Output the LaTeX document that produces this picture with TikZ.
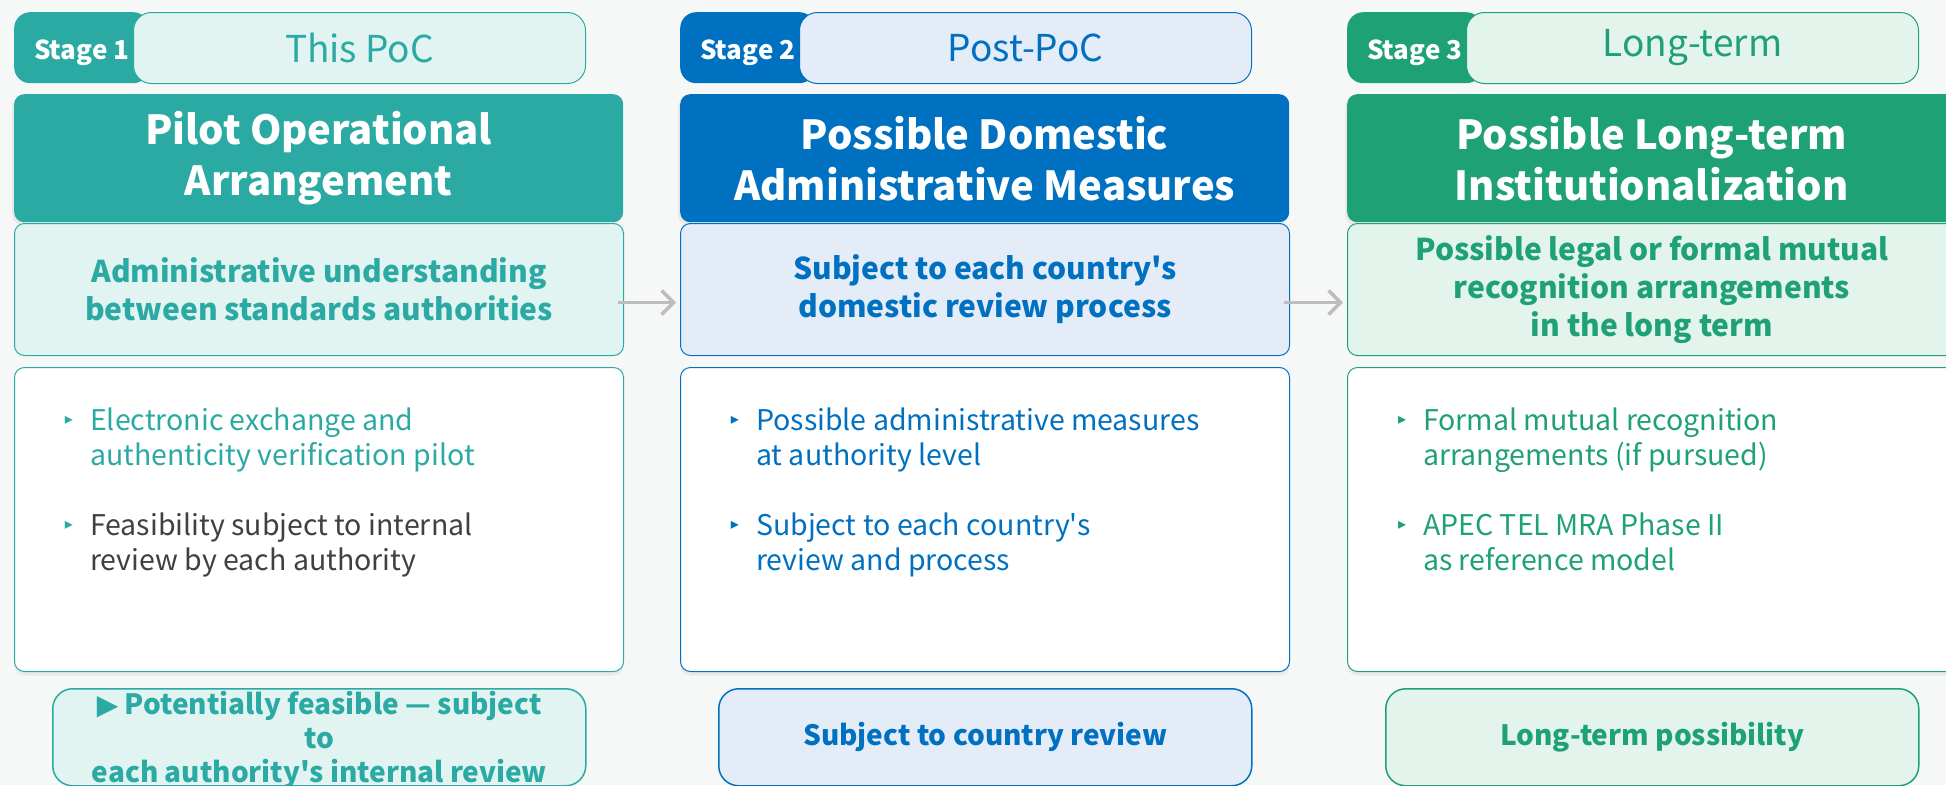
\documentclass[tikz,border=0pt]{standalone}
\usepackage{fontspec}
\setmainfont{Noto Sans CJK KR}[Ligatures=TeXOff]
\newfontfamily\symfont{DejaVu Sans}
\usetikzlibrary{arrows.meta,shadows}

\definecolor{pagebg}{HTML}{F6F8F8}
\definecolor{tealdark}{HTML}{2BAAA3}
\definecolor{teallight}{HTML}{E1F4F2}
\definecolor{bluedark}{HTML}{0070C0}
\definecolor{bluelight}{HTML}{E4ECF8}
\definecolor{greendark}{HTML}{1FA176}
\definecolor{greenlight}{HTML}{E3F4EC}
\definecolor{graytext}{HTML}{404040}
\definecolor{arrowgray}{HTML}{BDBDBD}

\tikzset{
    every picture/.style={x=1pt, y=-1pt},
    tagpill/.style={rounded corners=16pt, minimum width=135pt, minimum height=71pt,
        inner sep=0pt, anchor=north west, text=white, text height=24pt, text depth=0pt,
        font=\bfseries\fontsize{26}{30}\selectfont},
    phasepill/.style={draw, line width=1pt, rounded corners=18pt, minimum width=452pt,
        minimum height=71pt, inner sep=0pt, anchor=north west, font=\fontsize{37}{40}\selectfont},
    titlebox/.style={rounded corners=10pt, minimum width=609pt, minimum height=128pt,
        anchor=north west, text=white, align=center, font=\bfseries\fontsize{40}{51}\selectfont,
        drop shadow={opacity=0.12, shadow xshift=-2pt, shadow yshift=-3pt}},
    subbox/.style={draw, line width=1pt, rounded corners=10pt, minimum width=609pt,
        minimum height=132pt, anchor=north west, align=center, font=\bfseries\fontsize{30}{38}\selectfont},
    bodybox/.style={draw, fill=white, line width=1pt, rounded corners=10pt, minimum width=609pt,
        minimum height=304pt, anchor=north west,
        drop shadow={opacity=0.10, shadow xshift=0pt, shadow yshift=-4pt}},
    footbox/.style={draw, line width=1.5pt, rounded corners=20pt, minimum width=533pt,
        minimum height=97pt, anchor=north west, align=center, font=\bfseries\fontsize{28}{34}\selectfont},
    marker/.style={inner sep=0pt, anchor=center, font=\symfont\fontsize{16}{16}\selectfont},
    bullet/.style={inner sep=0pt, anchor=base west, align=left, font=\fontsize{28.5}{35}\selectfont},
    flow/.style={-{Straight Barb[length=12pt, width=24pt]}, line width=3.5pt, draw=arrowgray},
}

\begin{document}
\begin{tikzpicture}
    % Canvas
    \useasboundingbox (0,0) rectangle (1946,785);
    \clip (0,0) rectangle (1946,785);
    \fill[pagebg] (0,0) rectangle (1946,785);

    % Stage tags
    \node[tagpill, fill=tealdark] (tag1) at (14,12) {Stage 1};
    \node[phasepill, draw=tealdark, fill=teallight, text=tealdark] (phase1) at (133,12) {This PoC};
    \node[tagpill, fill=bluedark] (tag2) at (680,12) {Stage 2};
    \node[phasepill, draw=bluedark, fill=bluelight, text=bluedark] (phase2) at (799,12) {Post-PoC};
    \node[tagpill, fill=greendark] (tag3) at (1347,12) {Stage 3};
    \node[phasepill, draw=greendark, fill=greenlight, text=greendark] (phase3) at (1466,12) {Long-term};

    % Title bars
    \node[titlebox, fill=tealdark] (title1) at (14,94) {Pilot Operational\\Arrangement};
    \node[titlebox, fill=bluedark] (title2) at (680,94) {Possible Domestic\\Administrative Measures};
    \node[titlebox, fill=greendark] (title3) at (1347,94) {Possible Long-term\\Institutionalization};

    % Subtitle boxes
    \node[subbox, draw=tealdark, fill=teallight, text=tealdark] (sub1) at (14,223)
        {Administrative understanding\\between standards authorities};
    \node[subbox, draw=bluedark, fill=bluelight, text=bluedark] (sub2) at (680,223)
        {Subject to each country's\\domestic review process};
    \node[subbox, draw=greendark, fill=greenlight, text=greendark] (sub3) at (1347,223)
        {Possible legal or formal mutual\\recognition arrangements\\in the long term};

    % Arrows between stages
    \foreach \a/\b in {sub1/sub2, sub2/sub3}
        \draw[flow] ([xshift=-6pt, yshift=-13pt]\a.east) -- ([xshift=-4pt, yshift=-13pt]\b.west);

    % Body boxes
    \node[bodybox, draw=tealdark] (body1) at (14,367) {};
    \node[bodybox, draw=bluedark] (body2) at (680,367) {};
    \node[bodybox, draw=greendark] (body3) at (1347,367) {};

    % Bullets, stage 1 (nodes sit on the baseline of their last line)
    \node[marker, text=tealdark] (mark11) at (69,420) {▸};
    \node[bullet, text=tealdark] (item11) at (90,465) {Electronic exchange and\\authenticity verification pilot};
    \node[marker, text=tealdark] (mark12) at (69,525) {▸};
    \node[bullet, text=graytext] (item12) at (90,570) {Feasibility subject to internal\\review by each authority};

    % Bullets, stage 2
    \node[marker, text=bluedark] (mark21) at (735,420) {▸};
    \node[bullet, text=bluedark] (item21) at (756,465) {Possible administrative measures\\at authority level};
    \node[marker, text=bluedark] (mark22) at (735,525) {▸};
    \node[bullet, text=bluedark] (item22) at (756,570) {Subject to each country's\\review and process};

    % Bullets, stage 3
    \node[marker, text=greendark] (mark31) at (1402,420) {▸};
    \node[bullet, text=greendark] (item31) at (1423,465) {Formal mutual recognition\\arrangements (if pursued)};
    \node[marker, text=greendark] (mark32) at (1402,525) {▸};
    \node[bullet, text=greendark] (item32) at (1423,570) {APEC TEL MRA Phase II\\as reference model};

    % Footer notes
    \node[footbox, draw=tealdark, fill=teallight] (foot1) at (52,688) {};
    \node[inner sep=0pt, anchor=north, align=center, text=tealdark,
        font=\bfseries\fontsize{28}{34}\selectfont] (note1) at ([yshift=-3pt]foot1.north)
        {{\symfont ▶} Potentially feasible — subject\\to\\each authority's internal review};
    \node[footbox, draw=bluedark, fill=bluelight, text=bluedark] (foot2) at (718,688) {Subject to country review};
    \node[footbox, draw=greendark, fill=greenlight, text=greendark] (foot3) at (1385,688) {Long-term possibility};
\end{tikzpicture}
\end{document}
